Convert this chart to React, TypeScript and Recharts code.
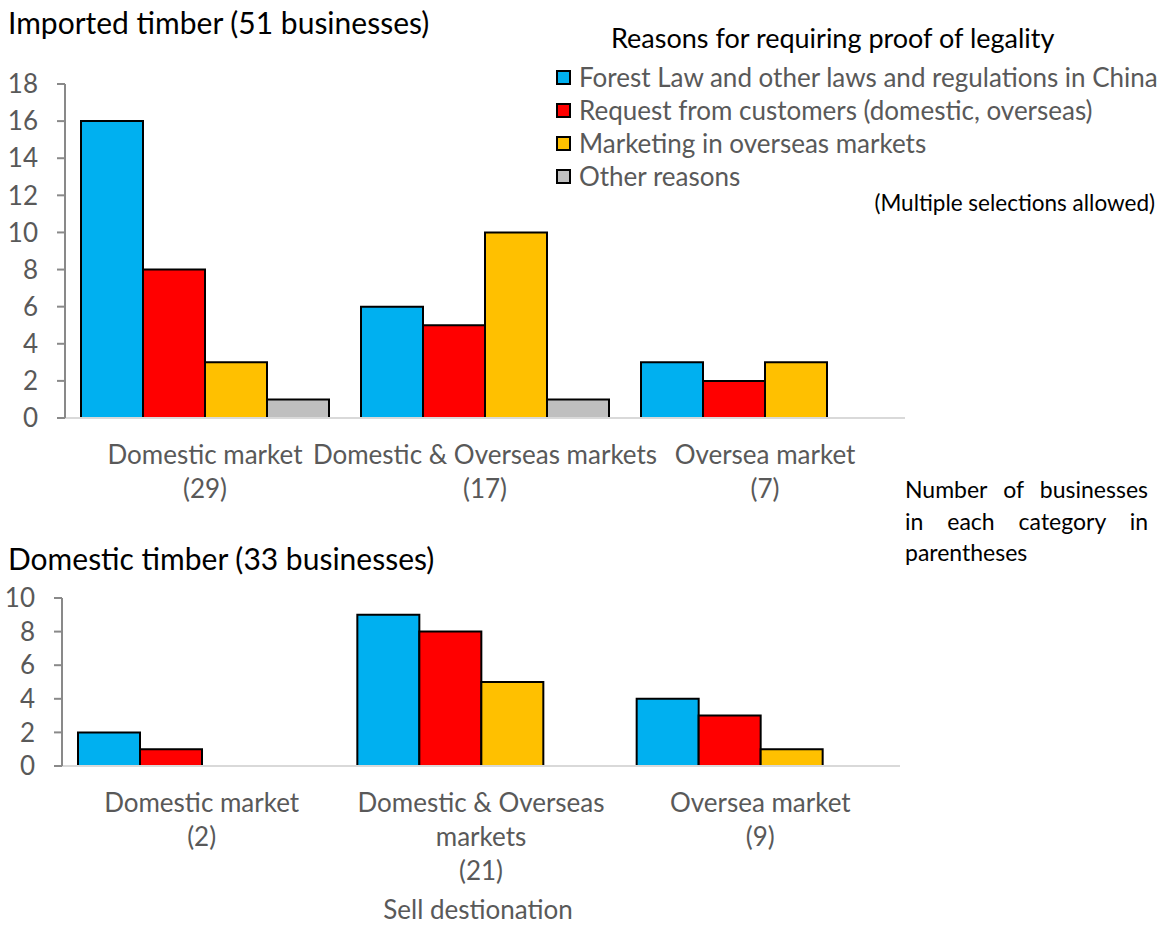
import React from 'react';
import { BarChart, Bar, XAxis, YAxis, Legend } from 'recharts';

const FONT = 'Lato, "Open Sans", sans-serif';

const seriesNames = [
  'Forest Law and other laws and regulations in China',
  'Request from customers (domestic, overseas)',
  'Marketing in overseas markets',
  'Other reasons',
];
const seriesKeys = ['law', 'customers', 'marketing', 'other'];
const seriesColors = ['#00B0F0', '#FF0000', '#FFC000', '#BFBFBF'];

// Imported timber (51 businesses)
const importedCategories = ['Domestic market\n(29)', 'Domestic & Overseas markets\n(17)', 'Oversea market\n(7)'];
const importedLaw = [16, 6, 3];
const importedCustomers = [8, 5, 2];
const importedMarketing = [3, 10, 3];
const importedOther = [1, 1, 0];
const importedTicks = [0, 2, 4, 6, 8, 10, 12, 14, 16, 18];

// Domestic timber (33 businesses)
const domesticCategories = ['Domestic market\n(2)', 'Domestic & Overseas\nmarkets\n(21)', 'Oversea market\n(9)'];
const domesticLaw = [2, 9, 4];
const domesticCustomers = [1, 8, 3];
const domesticMarketing = [0, 5, 1];
const domesticOther = [0, 0, 0];
const domesticTicks = [0, 2, 4, 6, 8, 10];

const noteLines = ['Number of businesses', 'in each category in', 'parentheses'];

const buildRows = (cats: string[], cols: number[][]) =>
  cats.map((name, i) => {
    const row: any = { name };
    seriesKeys.forEach((k, j) => { row[k] = cols[j][i]; });
    return row;
  });

const importedData = buildRows(importedCategories, [importedLaw, importedCustomers, importedMarketing, importedOther]);
const domesticData = buildRows(domesticCategories, [domesticLaw, domesticCustomers, domesticMarketing, domesticOther]);

const CategoryTick = (props: any) => {
  const { x, y, payload } = props;
  const lines = String(payload.value).split('\n');
  return (
    <text x={x} y={y} textAnchor="middle" fill="#595959" fontSize={26} fontFamily={FONT} dominantBaseline="central">
      {lines.map((line, i) => (
        <tspan key={i} x={x} y={y + 36 + i * 34}>{line}</tspan>
      ))}
    </text>
  );
};

const renderLegend = (props: any) => {
  const items = [...(props.payload || [])].sort(
    (a: any, b: any) => seriesNames.indexOf(a.value) - seriesNames.indexOf(b.value)
  );
  return (
    <div style={{ position: 'relative', width: 642, height: 230, fontFamily: FONT }}>
      <div style={{ position: 'absolute', left: 91, top: 21, fontSize: 27, lineHeight: '34px', color: '#000', whiteSpace: 'nowrap' }}>
        Reasons for requiring proof of legality
      </div>
      {items.map((item: any, i: number) => (
        <div key={item.value} style={{ position: 'absolute', left: 36, top: 60 + i * 33, height: 34, display: 'flex', alignItems: 'center', whiteSpace: 'nowrap' }}>
          <span style={{ width: 11, height: 11, background: item.color, border: '2px solid #000', marginRight: 8, flex: 'none' }} />
          <span style={{ fontSize: 26, color: '#595959' }}>{item.value}</span>
        </div>
      ))}
      <div style={{ position: 'absolute', right: 7, top: 189, fontSize: 22.5, lineHeight: '28px', color: '#000', whiteSpace: 'nowrap' }}>
        (Multiple selections allowed)
      </div>
    </div>
  );
};

const bars = (withName: boolean) =>
  seriesKeys.map((k, i) => (
    <Bar
      key={k}
      dataKey={k}
      name={withName ? seriesNames[i] : k}
      fill={seriesColors[i]}
      stroke="#000"
      strokeWidth={2}
      isAnimationActive={false}
    />
  ));

export default function App() {
  return (
    <div style={{ position: 'absolute', left: 0, top: 0, width: 1162, height: 925, background: '#fff', fontFamily: FONT, overflow: 'hidden' }}>
      <div style={{ position: 'absolute', left: 8, top: 4, fontSize: 30, lineHeight: '36px', color: '#000', whiteSpace: 'nowrap' }}>
        Imported timber (51 businesses)
      </div>
      <div style={{ position: 'absolute', left: 0, top: 0 }}>
        <BarChart
          width={1162}
          height={508}
          data={importedData}
          margin={{ top: 84, right: 257, left: 0, bottom: 0 }}
          barCategoryGap={16}
          barGap={0}
        >
          <XAxis
            dataKey="name"
            height={90}
            tickLine={false}
            tickSize={0}
            tickMargin={0}
            axisLine={{ stroke: '#d9d9d9', strokeWidth: 2 }}
            tick={<CategoryTick />}
            interval={0}
          />
          <YAxis
            width={65}
            domain={[0, 18]}
            ticks={importedTicks}
            interval={0}
            axisLine={{ stroke: '#898989', strokeWidth: 2 }}
            tickLine={{ stroke: '#898989', strokeWidth: 2 }}
            tickSize={8}
            tickMargin={19}
            tick={{ fill: '#595959', fontSize: 26, fontFamily: FONT }}
          />
          <Legend
            layout="vertical"
            align="center"
            verticalAlign="middle"
            wrapperStyle={{ position: 'absolute', left: 520, top: 0, width: 642, height: 230 }}
            content={renderLegend}
          />
          {bars(true)}
        </BarChart>
      </div>

      <div style={{ position: 'absolute', left: 905, top: 474, width: 243, fontSize: 23, lineHeight: '31.5px', color: '#000' }}>
        {noteLines.map((line, i) => (
          <div key={i} style={{ textAlign: 'justify', textAlignLast: i < noteLines.length - 1 ? 'justify' : 'left', whiteSpace: 'nowrap' }}>
            {line}
          </div>
        ))}
      </div>

      <div style={{ position: 'absolute', left: 8, top: 540, fontSize: 30, lineHeight: '36px', color: '#000', whiteSpace: 'nowrap' }}>
        Domestic timber (33 businesses)
      </div>
      <div style={{ position: 'absolute', left: 0, top: 520 }}>
        <BarChart
          width={1162}
          height={396}
          data={domesticData}
          margin={{ top: 78, right: 262, left: 0, bottom: 0 }}
          barCategoryGap={16}
          barGap={0}
        >
          <XAxis
            dataKey="name"
            height={150}
            tickLine={false}
            tickSize={0}
            tickMargin={0}
            axisLine={{ stroke: '#d9d9d9', strokeWidth: 2 }}
            tick={<CategoryTick />}
            interval={0}
          />
          <YAxis
            width={62}
            domain={[0, 10]}
            ticks={domesticTicks}
            interval={0}
            axisLine={{ stroke: '#898989', strokeWidth: 2 }}
            tickLine={{ stroke: '#898989', strokeWidth: 2 }}
            tickSize={8}
            tickMargin={19}
            tick={{ fill: '#595959', fontSize: 26, fontFamily: FONT }}
          />
          {bars(false)}
        </BarChart>
      </div>
      <div style={{ position: 'absolute', left: 0, width: 956, top: 895, textAlign: 'center', fontSize: 26, lineHeight: '28px', color: '#595959', whiteSpace: 'nowrap' }}>
        Sell destionation
      </div>
    </div>
  );
}
